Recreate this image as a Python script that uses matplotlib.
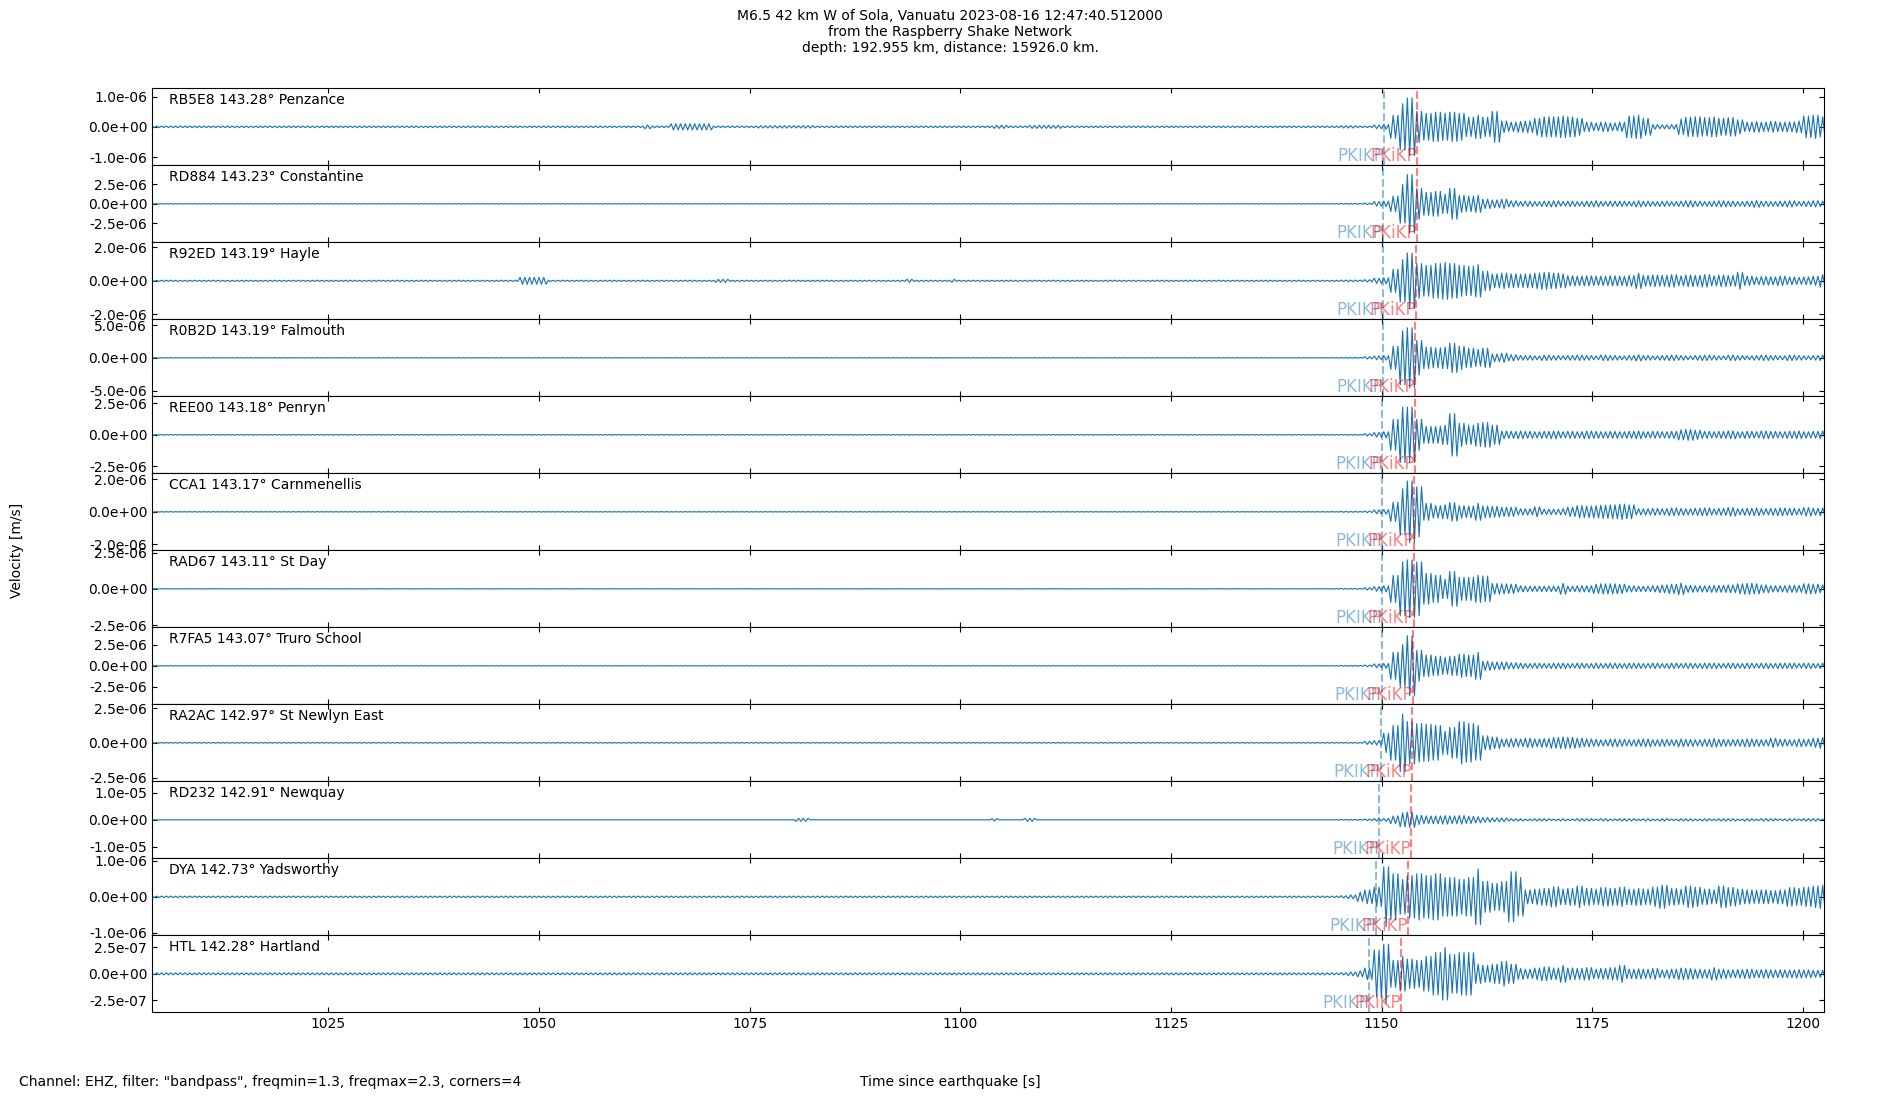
import numpy as np
import matplotlib
matplotlib.use("Agg")
import matplotlib.pyplot as plt
from matplotlib.ticker import MultipleLocator

# stations, top to bottom
codes = ["RB5E8", "RD884", "R92ED", "R0B2D", "REE00", "CCA1",
         "RAD67", "R7FA5", "RA2AC", "RD232", "DYA", "HTL"]
dists = [143.28, 143.23, 143.19, 143.19, 143.18, 143.17,
         143.11, 143.07, 142.97, 142.91, 142.73, 142.28]
places = ["Penzance", "Constantine", "Hayle", "Falmouth", "Penryn", "Carnmenellis",
          "St Day", "Truro School", "St Newlyn East", "Newquay", "Yadsworthy", "Hartland"]

# y-axis half range and tick value per trace [m/s]
ymax = [1.27e-6, 4.94e-6, 2.3e-6, 5.87e-6, 3.04e-6, 2.38e-6,
        2.66e-6, 4.6e-6, 2.77e-6, 1.43e-5, 1.07e-6, 3.65e-7]
ytick = [1.0e-6, 2.5e-6, 2.0e-6, 5.0e-6, 2.5e-6, 2.0e-6,
         2.5e-6, 2.5e-6, 2.5e-6, 1.0e-5, 1.0e-6, 2.5e-7]

# phase arrival times [s]
t_pkikp = [1150.3, 1150.2, 1150.2, 1150.15, 1150.1, 1150.1,
           1150.1, 1150.0, 1149.9, 1149.7, 1149.35, 1148.55]
t_pkikp2 = [1154.25, 1154.15, 1154.1, 1154.0, 1154.0, 1153.9,
            1153.85, 1153.75, 1153.6, 1153.5, 1153.15, 1152.25]

# background noise level before the arrival, % of half range
noise = [2, 0.5, 1.5, 0.5, 0.7, 0.5, 0.5, 0.5, 1, 0.3, 2, 2.5]

# small wave packets before the arrival: (start, end, % of half range)
bumps = [
    [(1062.5, 1063.3, 5), (1065.5, 1070.5, 8), (1076, 1082.5, 3), (1104, 1105.5, 4), (1108, 1112, 4)],
    [],
    [(1047.5, 1051, 9), (1071, 1072.5, 4), (1093.5, 1094.5, 4), (1099, 1099.5, 4)],
    [], [], [], [], [], [],
    [(1080.5, 1082, 4), (1103.5, 1104.5, 3), (1107.5, 1109, 4)],
    [], [],
]

# oscillation amplitude per second from 1145 s to 1202 s, % of half range
coda_start = 1145
coda = [
    [3, 3, 2, 2, 5, 6, 30, 60, 75, 40, 35, 38, 35, 38, 35, 25, 30, 25, 40, 15,
     12, 14, 15, 22, 26, 26, 28, 26, 22, 12, 10, 12, 10, 12, 28, 30, 22, 6, 5, 6,
     20, 25, 26, 24, 26, 22, 24, 18, 12, 14, 12, 14, 12, 13, 15, 28, 30, 26],
    [1, 1, 1, 2, 6, 7, 20, 50, 76, 40, 30, 32, 25, 40, 22, 20, 22, 12, 10, 12,
     8, 6, 7, 6, 7, 8, 6, 7, 6, 7, 8, 6, 7, 7, 6, 8, 7, 6, 7, 6,
     7, 8, 7, 6, 7, 8, 7, 6, 7, 9, 7, 6, 7, 8, 6, 7, 8, 7],
    [2, 2, 2, 3, 7, 8, 30, 55, 72, 45, 40, 45, 48, 45, 40, 38, 42, 25, 18, 20,
     18, 17, 18, 20, 22, 20, 18, 13, 12, 13, 12, 12, 13, 12, 14, 20, 14, 15, 14, 16,
     13, 15, 14, 16, 13, 15, 14, 22, 12, 10, 11, 10, 12, 10, 9, 10, 12, 16],
    [1, 1, 1, 3, 5, 6, 30, 70, 78, 45, 28, 26, 28, 38, 30, 25, 22, 25, 10, 12,
     8, 6, 6, 5, 7, 6, 5, 6, 7, 6, 5, 7, 6, 5, 6, 8, 6, 5, 6, 7,
     6, 5, 6, 7, 6, 5, 7, 6, 5, 6, 7, 6, 5, 7, 6, 5, 6, 7],
    [1, 1, 1, 3, 6, 8, 40, 72, 72, 40, 22, 22, 25, 55, 30, 25, 30, 32, 25, 10,
     9, 10, 9, 8, 9, 10, 8, 9, 8, 10, 9, 8, 9, 8, 9, 10, 8, 9, 8, 9,
     13, 14, 12, 9, 8, 9, 10, 8, 9, 8, 10, 9, 8, 9, 10, 8, 9, 10],
    [1, 1, 1, 2, 5, 6, 25, 60, 80, 65, 22, 16, 18, 24, 16, 15, 22, 15, 14, 12,
     12, 8, 8, 13, 7, 7, 8, 12, 16, 15, 16, 17, 18, 20, 18, 8, 8, 9, 8, 10,
     9, 8, 9, 10, 8, 9, 11, 8, 9, 10, 8, 9, 10, 9, 8, 11, 9, 10],
    [1, 1, 1, 3, 6, 8, 35, 70, 75, 70, 40, 35, 25, 45, 30, 30, 35, 33, 14, 13,
     12, 8, 7, 7, 7, 7, 14, 7, 8, 8, 12, 13, 13, 12, 8, 7, 7, 8, 10, 12,
     15, 9, 8, 8, 9, 9, 10, 13, 14, 13, 10, 8, 8, 9, 9, 13, 12, 10],
    [1, 1, 1, 2, 5, 6, 35, 55, 78, 40, 28, 25, 22, 25, 30, 28, 35, 12, 10, 10,
     8, 7, 6, 7, 6, 7, 7, 6, 7, 6, 7, 6, 7, 6, 7, 7, 6, 7, 6, 7,
     6, 7, 6, 7, 7, 6, 7, 6, 7, 6, 7, 6, 7, 7, 6, 7, 6, 7],
    [1, 1, 1, 4, 6, 25, 45, 75, 55, 50, 48, 45, 30, 40, 55, 50, 45, 18, 15, 10,
     11, 10, 12, 10, 11, 14, 15, 14, 12, 10, 9, 8, 10, 9, 8, 9, 10, 8, 9, 8,
     10, 9, 8, 9, 11, 9, 8, 9, 10, 9, 8, 12, 9, 8, 10, 9, 12, 14],
    [1, 1, 1, 2, 3, 4, 10, 18, 20, 12, 10, 10, 11, 10, 11, 9, 8, 6, 5, 5,
     3, 3, 2, 3, 3, 2, 3, 2, 3, 3, 2, 3, 2, 3, 3, 2, 3, 2, 3, 2,
     3, 3, 2, 3, 2, 3, 3, 2, 3, 2, 3, 3, 2, 3, 2, 3, 3, 2],
    [3, 5, 12, 18, 25, 78, 60, 45, 55, 60, 55, 60, 50, 50, 45, 50, 72, 40, 35, 40,
     65, 50, 18, 20, 22, 26, 20, 22, 28, 22, 20, 24, 22, 25, 20, 22, 20, 25, 30, 22,
     20, 28, 25, 20, 18, 28, 24, 20, 18, 17, 18, 16, 18, 24, 22, 25, 28, 30],
    [3, 5, 8, 15, 62, 77, 35, 45, 38, 35, 45, 55, 68, 50, 55, 55, 25, 22, 25, 32,
     25, 14, 12, 15, 18, 15, 22, 15, 14, 16, 12, 14, 16, 22, 12, 13, 12, 14, 10, 12,
     15, 14, 12, 11, 16, 12, 10, 11, 12, 10, 11, 10, 10, 10, 11, 10, 9, 9],
]

t0, t1 = 1004.1, 1202.5
half_period = 0.28  # ~1.8 Hz signal after the bandpass

fig, axes = plt.subplots(len(codes), 1, sharex=True, figsize=(19, 11), dpi=100)
fig.subplots_adjust(left=0.08, right=0.96, top=0.9197, bottom=0.0797, hspace=0)

t = np.arange(t0, t1 + half_period, half_period)
sign = np.where(np.arange(len(t)) % 2 == 0, 1.0, -1.0)

for i, ax in enumerate(axes):
    amp = np.full(t.shape, noise[i] / 100)
    for a, b, v in bumps[i]:
        amp[(t >= a) & (t < b)] = v / 100
    idx = np.floor(t - coda_start).astype(int)
    m = (idx >= 0) & (idx < len(coda[i]))
    amp[m] = np.array(coda[i])[idx[m]] / 100
    y = amp * sign * ymax[i]

    ax.plot(t, y, color="C0", lw=0.85)
    ax.axvline(t_pkikp[i], color="C0", ls="--", lw=1.5, alpha=0.5)
    ax.axvline(t_pkikp2[i], color="red", ls="--", lw=1.5, alpha=0.5)
    ax.text(t_pkikp[i], -ymax[i], "PKIKP", color="C0", alpha=0.5,
            fontsize=12, ha="right", va="bottom")
    ax.text(t_pkikp2[i], -ymax[i], "PKiKP", color="red", alpha=0.5,
            fontsize=12, ha="right", va="bottom")
    ax.text(0.01, 0.94, f"{codes[i]} {dists[i]:.2f}° {places[i]}",
            transform=ax.transAxes, fontsize=10, va="top", ha="left")

    ax.set_ylim(-ymax[i], ymax[i])
    ticks = [-ytick[i], 0, ytick[i]]
    ax.set_yticks(ticks)
    ax.set_yticklabels([f"{v:.1e}" for v in ticks])
    ax.set_xlim(t0, t1)
    ax.xaxis.set_major_locator(MultipleLocator(25))
    ax.tick_params(direction="in", top=True, right=True, labelsize=10)

fig.suptitle("M6.5 42 km W of Sola, Vanuatu 2023-08-16 12:47:40.512000\n"
             "from the Raspberry Shake Network\n"
             "depth: 192.955 km, distance: 15926.0 km.",
             fontsize=10, y=0.992, va="top")
fig.supxlabel("Time since earthquake [s]", fontsize=10)
fig.text(0.009, 0.5, "Velocity [m/s]", rotation=90, va="center", ha="center", fontsize=10)
fig.text(0.01, 0.01, 'Channel: EHZ, filter: "bandpass", freqmin=1.3, freqmax=2.3, corners=4',
         fontsize=10, ha="left", va="bottom")

plt.savefig("out.png", dpi=100)
